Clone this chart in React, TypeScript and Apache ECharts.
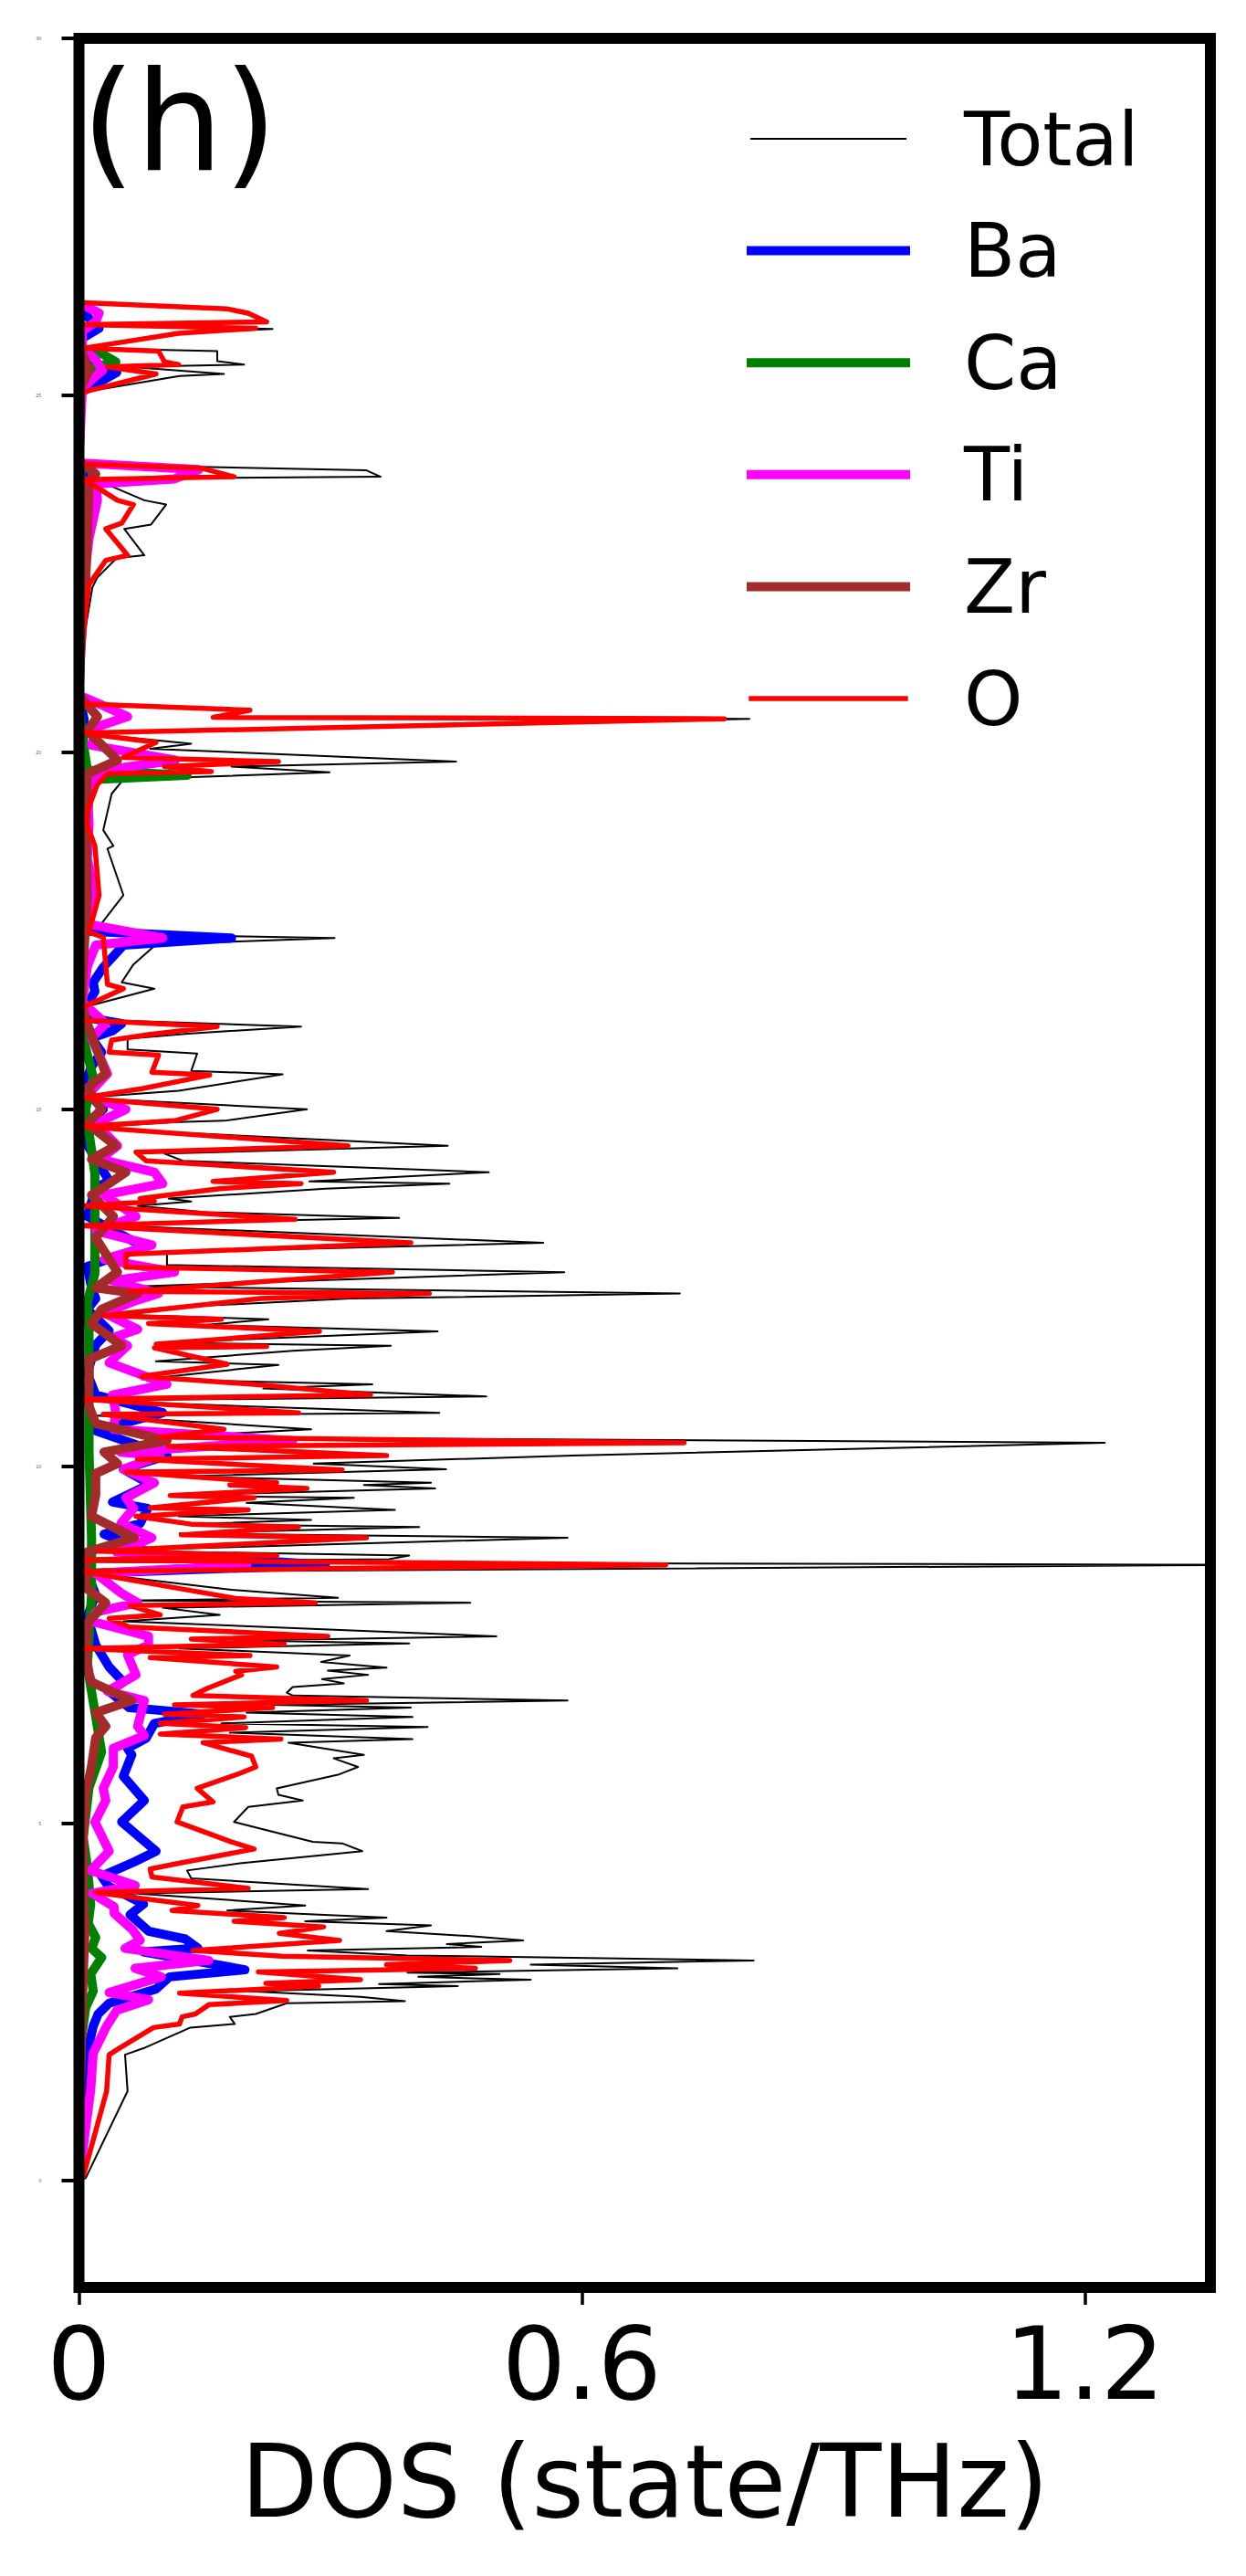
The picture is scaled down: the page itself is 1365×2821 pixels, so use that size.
import React, { useEffect, useRef } from "react";
import * as echarts from "echarts";

// [frequency (THz), DOS (state/THz)]
const totalPts: [number, number][] = [
  [26.3,0],[26.22,0.18],[26.15,0.203],[26.03,0.224],[25.99,0.005],[25.93,0.231],[25.87,0.12],[25.66,0.005],[25.62,0.165],[25.48,0.165],[25.43,0.197],[25.4,0.06],[25.3,0.173],[25.27,0.12],[25.04,0.003],[24.1,0],
  [24.03,0.005],[23.95,0.343],[23.86,0.36],[23.83,0.015],[23.77,0.03],[23.53,0.078],[23.47,0.104],[23.19,0.086],[23.13,0.054],[22.76,0.078],[22.72,0.045],[22.45,0.022],[22.31,0.016],[21.4,0.003],[20.8,0],
  [20.68,0.005],[20.6,0.204],[20.5,0.16],[20.47,0.8],[20.27,0.005],[20.12,0.134],[20.05,0.085],[19.87,0.45],[19.8,0.182],[19.72,0.299],[19.62,0.053],[19.42,0.039],[18.91,0.029],[18.69,0.041],[18.65,0.034],[18.0,0.053],[17.53,0.022],[17.46,0.01],[17.4,0.305],[17.31,0.092],[17.03,0.065],[16.78,0.051],[16.69,0.09],[16.42,0.003],
  [16.26,0.003],[16.16,0.265],[16.06,0.13],[15.99,0.058],[15.84,0.058],[15.78,0.141],[15.54,0.134],[15.49,0.243],[15.26,0.119],[15.16,0.003],[15.0,0.272],[14.84,0.173],[14.82,0.11],[14.74,0.003],[14.49,0.44],[14.38,0.102],[14.28,0.124],[14.12,0.489],[13.99,0.275],[13.96,0.442],[13.89,0.294],[13.75,0.107],[13.71,0.134],[13.65,0.07],[13.56,0.151],[13.48,0.382],[13.39,0.003],[13.13,0.554],[13.0,0.105],[12.82,0.105],[12.72,0.579],[12.52,0.07],[12.42,0.717],[12.35,0.323],
  [12.22,0.1],[12.13,0.036],[12.06,0.226],[11.98,0.15],[11.89,0.428],[11.73,0.095],[11.69,0.372],[11.62,0.255],[11.47,0.092],[11.42,0.238],[11.22,0.075],[11.15,0.35],[11.09,0.22],[10.98,0.486],[10.92,0.003],[10.75,0.43],[10.71,0.02],[10.52,0.277],[10.41,0.097],[10.33,1.224],[10.15,0.588],[10.04,0.28],[9.96,0.438],[9.86,0.12],[9.77,0.42],[9.74,0.34],[9.69,0.425],[9.59,0.107],[9.56,0.328],[9.49,0.2],[9.39,0.377],[9.3,0.119],[9.25,0.277],[9.19,0.13],[9.15,0.406],[9.06,0.12],[9.0,0.583],[8.82,0.03],[8.75,0.394],[8.7,0.37],[8.66,0.003],[8.62,1.4],[8.52,0.003],[8.27,0.182],[8.16,0.309],
  [8.12,0.06],[8.09,0.467],[8.02,0.1],[7.92,0.168],[7.83,0.053],[7.62,0.498],[7.56,0.2],[7.52,0.394],[7.45,0.12],[7.35,0.323],[7.26,0.289],[7.18,0.367],[7.14,0.297],[7.08,0.345],[7.02,0.29],[6.96,0.316],[6.91,0.255],[6.83,0.248],[6.79,0.255],[6.72,0.583],[6.66,0.23],[6.62,0.396],[6.55,0.2],[6.49,0.398],[6.4,0.17],[6.35,0.416],[6.27,0.18],[6.18,0.398],[6.13,0.25],[5.96,0.34],[5.91,0.304],[5.79,0.333],[5.68,0.309],[5.49,0.236],[5.4,0.238],[5.32,0.267],[5.23,0.202],[5.02,0.185],[4.74,0.279],[4.72,0.314],[4.61,0.338],[4.44,0.192],[4.34,0.129],[4.23,0.134],[4.08,0.345],
  [4.02,0.067],[3.85,0.27],[3.78,0.177],[3.68,0.367],[3.63,0.27],[3.57,0.42],[3.49,0.367],[3.42,0.467],[3.36,0.53],[3.31,0.439],[3.27,0.48],[3.22,0.273],[3.15,0.392],[3.08,0.805],[3.02,0.539],[2.97,0.714],[2.91,0.392],[2.89,0.502],[2.85,0.405],[2.81,0.539],[2.75,0.358],[2.72,0.452],[2.65,0.2],[2.57,0.336],[2.51,0.389],[2.48,0.248],[2.33,0.211],[2.29,0.18],[2.19,0.186],[2.14,0.133],[1.85,0.077],[1.76,0.055],[1.25,0.058],[0.03,0.008],[0,0],
];

const oPts: [number, number][] = [
  [26.3,0],[26.21,0.177],[26.15,0.202],[26.03,0.224],[25.99,0.005],[25.94,0.211],[25.87,0.119],[25.66,0.005],[25.62,0.095],[25.47,0.102],[25.43,0.119],[25.4,0.034],[25.3,0.092],[25.04,0.003],[24.1,0],
  [24.04,0.003],[23.98,0.146],[23.86,0.185],[23.82,0.005],[23.76,0.015],[23.53,0.046],[23.47,0.065],[23.21,0.051],[23.13,0.032],[22.76,0.058],[22.69,0.032],[22.35,0.012],[21.4,0.002],[20.8,0],
  [20.68,0.003],[20.59,0.204],[20.49,0.16],[20.47,0.77],[20.27,0.003],[20.14,0.092],[19.93,0.053],[19.87,0.238],[19.8,0.102],[19.73,0.158],[19.7,0.034],[19.55,0.022],[19.08,0.007],[18.69,0.019],[18.0,0.024],[17.48,0.012],[17.41,0.029],[16.75,0.034],[16.69,0.053],[16.42,0.003],
  [16.25,0.003],[16.16,0.165],[16.05,0.085],[15.97,0.039],[15.8,0.036],[15.76,0.095],[15.52,0.087],[15.48,0.156],[15.29,0.075],[15.16,0.003],[15.0,0.165],[14.84,0.114],[14.76,0.003],[14.49,0.321],[14.4,0.068],[14.28,0.08],[14.12,0.304],[13.99,0.16],[13.96,0.265],[13.89,0.168],[13.75,0.073],[13.71,0.09],[13.65,0.004],[13.46,0.258],[13.37,0.003],[13.13,0.396],[12.97,0.056],[12.79,0.056],[12.72,0.374],[12.45,0.061],[12.42,0.418],[12.35,0.216],
  [12.11,0.029],[12.06,0.17],[12.0,0.083],[11.89,0.287],[11.71,0.092],[11.68,0.224],[11.66,0.09],[11.43,0.177],[11.26,0.075],[11.14,0.219],[11.0,0.348],[10.94,0.003],[10.75,0.262],[10.73,0.029],[10.52,0.173],[10.41,0.097],[10.33,0.722],[10.28,0.107],[10.15,0.367],[10.1,0.07],[9.95,0.314],[9.92,0.056],[9.77,0.236],[9.74,0.18],[9.69,0.272],[9.59,0.109],[9.56,0.209],[9.42,0.085],[9.39,0.202],[9.3,0.068],[9.19,0.134],[9.15,0.262],[9.04,0.122],[9.0,0.343],[8.81,0.024],[8.75,0.236],[8.69,0.003],[8.62,0.7],[8.53,0.003],[8.26,0.134],[8.15,0.187],
  [8.09,0.282],[8.05,0.061],[7.92,0.097],[7.87,0.036],[7.75,0.06],[7.62,0.297],[7.58,0.134],[7.51,0.245],[7.45,0.003],[7.35,0.204],[7.32,0.085],[7.19,0.236],[7.13,0.187],[7.08,0.194],[6.89,0.153],[6.79,0.136],[6.72,0.343],[6.66,0.114],[6.62,0.231],[6.53,0.102],[6.49,0.197],[6.4,0.097],[6.34,0.199],[6.25,0.097],[6.18,0.241],[6.13,0.148],[5.94,0.206],[5.79,0.211],[5.7,0.192],[5.49,0.141],[5.3,0.16],[5.23,0.124],[5.02,0.117],[4.74,0.182],[4.64,0.209],[4.44,0.119],[4.36,0.085],[4.25,0.087],[4.09,0.202],
  [4.03,0.02],[3.85,0.142],[3.78,0.111],[3.68,0.245],[3.63,0.185],[3.55,0.292],[3.46,0.239],[3.36,0.311],[3.22,0.136],[3.14,0.242],[3.08,0.514],[3.02,0.367],[2.97,0.473],[2.92,0.214],[2.81,0.336],[2.76,0.223],[2.72,0.286],[2.62,0.12],[2.52,0.248],[2.46,0.155],[2.33,0.139],[2.29,0.123],[2.19,0.12],[2.14,0.089],[1.85,0.048],[1.76,0.036],[1.25,0.033],[0.05,0.005],[0,0],
];

const baPts: [number, number][] = [
  [26.3,0],[26.1,0.01],[25.94,0.024],[25.8,0.004],[25.66,0.004],[25.5,0.02],[25.43,0.012],[25.32,0.045],[25.22,0.03],[25.04,0.002],[24.1,0],[24.03,0.003],[23.9,0.006],[23.7,0.004],[23.0,0.003],[22.3,0.002],[21.4,0.001],[20.8,0],[20.47,0.006],[20.0,0.004],[19.87,0.008],[19.7,0.004],[19.0,0.003],[18.0,0.003],[17.5,0.005],[17.4,0.182],[17.3,0.053],[16.99,0.029],[16.78,0.017],[16.65,0.019],[16.47,0.01],[16.3,0.003],[16.2,0.051],[16.1,0.04],[16.0,0.015],[15.8,0.027],[15.6,0.015],[15.3,0.005],[15.0,0.029],[14.8,0.01],[14.5,0.01],[14.0,0.036],[13.9,0.02],[13.5,0.01],[13.07,0.078],[12.8,0.01],[12.5,0.015],[12.35,0.02],[12.2,0.01],[11.9,0.036],[11.7,0.02],[11.3,0.01],[11.0,0.02],[10.75,0.1],[10.5,0.02],[10.15,0.105],[9.96,0.053],[9.75,0.085],[9.5,0.04],[9.41,0.082],[9.2,0.073],[9.05,0.03],[8.77,0.09],[8.62,0.294],[8.5,0.01],[8.2,0.02],[7.9,0.01],[7.5,0.02],[7.19,0.036],[6.98,0.053],[6.85,0.036],[6.62,0.06],[6.53,0.148],[6.4,0.09],[6.19,0.08],[6.05,0.058],[5.96,0.063],[5.66,0.053],[5.32,0.078],[5.02,0.051],[4.61,0.092],[4.46,0.066],[4.26,0.027],[4.12,0.035],[3.87,0.077],[3.72,0.061],[3.49,0.083],[3.38,0.127],[3.25,0.142],[3.2,0.077],[2.95,0.198],[2.85,0.108],[2.68,0.092],[2.48,0.036],[2.33,0.023],[2.16,0.017],[1.85,0.011],[1.25,0.008],[0,0],
];

const caPts: [number, number][] = [
  [26.3,0],[25.66,0.002],[25.6,0.025],[25.47,0.044],[25.4,0.02],[25.3,0.003],[24.1,0],[24.0,0.002],[23.5,0.003],[22.5,0.003],[21.4,0.001],[20.8,0],[20.3,0.003],[19.75,0.01],[19.68,0.129],[19.62,0.02],[19.4,0.012],[18.5,0.006],[17.5,0.004],[16.5,0.002],[16.0,0.005],[15.45,0.017],[15.0,0.008],[14.1,0.019],[13.5,0.019],[12.7,0.019],[12.3,0.01],[11.9,0.012],[10.2,0.012],[9.0,0.015],[8.2,0.015],[7.2,0.01],[6.0,0.027],[5.5,0.012],[4.8,0.005],[4.4,0.01],[3.87,0.014],[3.6,0.011],[3.4,0.02],[3.25,0.015],[3.12,0.027],[2.89,0.014],[2.65,0.017],[2.42,0.008],[1.9,0.002],[0,0],
];

const tiPts: [number, number][] = [
  [26.3,0],[26.15,0.024],[26.03,0.02],[25.9,0.004],[25.66,0.004],[25.5,0.02],[25.35,0.028],[25.1,0.004],[24.1,0],[24.05,0.005],[23.96,0.143],[23.83,0.114],[23.76,0.02],[23.53,0.022],[23.0,0.012],[22.4,0.006],[21.4,0.002],[20.8,0],[20.65,0.03],[20.5,0.058],[20.35,0.02],[20.1,0.015],[19.89,0.115],[19.75,0.03],[19.5,0.01],[19.0,0.012],[18.5,0.01],[18.0,0.02],[17.6,0.008],[17.4,0.1],[17.3,0.02],[17.0,0.01],[16.5,0.004],[16.2,0.032],[16.0,0.015],[15.5,0.034],[15.2,0.01],[15.0,0.056],[14.8,0.02],[14.49,0.046],[14.3,0.025],[14.12,0.09],[13.96,0.1],[13.8,0.03],[13.5,0.068],[13.3,0.02],[13.1,0.087],[12.9,0.03],[12.72,0.114],[12.6,0.04],[12.42,0.095],[12.33,0.07],[12.15,0.03],[11.92,0.07],[11.8,0.04],[11.69,0.058],[11.45,0.036],[11.15,0.105],[11.0,0.04],[10.75,0.044],[10.52,0.041],[10.36,0.255],[10.2,0.05],[10.15,0.097],[9.96,0.053],[9.77,0.09],[9.56,0.056],[9.41,0.065],[9.2,0.05],[9.0,0.087],[8.8,0.045],[8.62,0.2],[8.5,0.02],[8.22,0.051],[8.09,0.07],[7.96,0.02],[7.83,0.015],[7.62,0.083],[7.5,0.083],[7.36,0.058],[7.08,0.068],[6.85,0.034],[6.72,0.078],[6.36,0.07],[6.23,0.078],[6.05,0.041],[5.79,0.041],[5.49,0.029],[5.32,0.032],[5.02,0.019],[4.61,0.036],[4.34,0.014],[4.13,0.067],[4.02,0.016],[3.83,0.042],[3.74,0.042],[3.51,0.064],[3.36,0.073],[3.25,0.055],[3.08,0.155],[2.97,0.067],[2.85,0.098],[2.63,0.036],[2.53,0.083],[2.38,0.045],[2.16,0.033],[1.78,0.017],[1.27,0.014],[0,0],
];

const zrPts: [number, number][] = [
  [26.3,0],[25.66,0.002],[25.35,0.012],[25.1,0.002],[24.1,0],[24.05,0.003],[23.9,0.02],[23.8,0.012],[23.0,0.01],[22.4,0.008],[21.4,0.002],[20.8,0],[20.5,0.022],[20.3,0.01],[19.89,0.046],[19.7,0.01],[19.0,0.008],[18.0,0.01],[17.0,0.005],[16.5,0.003],[16.2,0.01],[15.5,0.032],[15.3,0.01],[15.0,0.027],[14.8,0.01],[14.49,0.044],[14.3,0.015],[14.12,0.056],[13.96,0.036],[13.8,0.015],[13.5,0.041],[13.2,0.02],[12.72,0.046],[12.5,0.02],[12.42,0.07],[12.2,0.027],[12.0,0.015],[11.69,0.051],[11.5,0.012],[11.2,0.012],[10.9,0.01],[10.6,0.02],[10.36,0.105],[10.2,0.03],[10.04,0.046],[9.9,0.02],[9.6,0.02],[9.3,0.015],[9.0,0.066],[8.8,0.01],[8.3,0.008],[8.09,0.032],[7.8,0.01],[7.4,0.008],[7.1,0.012],[6.98,0.015],[6.72,0.063],[6.55,0.02],[6.36,0.032],[6.2,0.02],[5.8,0.015],[5.4,0.008],[4.8,0.005],[4.1,0.005],[3.5,0.007],[2.5,0.004],[1.5,0.002],[0,0],
];

const seriesNames = ["Total", "Ba", "Ca", "Ti", "Zr", "O"];
const seriesColors = ["#000000", "#0000ff", "#008000", "#ff00ff", "#a52a2a", "#ff0000"];
const seriesWidths = [2, 10, 10, 10, 10, 5.5];
const seriesPts = [totalPts, baPts, caPts, tiPts, zrPts, oPts];

const freqTicks = [0, 5, 10, 15, 20, 25, 30];
const dosTicks = [0, 0.6, 1.2];

const FONT = "DejaVu Sans";

export default function App() {
  const ref = useRef<HTMLDivElement>(null);
  useEffect(() => {
    if (!ref.current) return;
    const chart = echarts.init(ref.current, null, { renderer: "svg" });
    const gridLeft = 86.5;
    const gridTop = 42;
    const gridRight = 39;
    const gridBottom = 316;
    const W = 1365;
    const H = 2821;
    chart.setOption({
      animation: false,
      textStyle: { fontFamily: FONT },
      title: {
        text: "(h)",
        left: 89,
        top: 57,
        padding: 0,
        textStyle: { fontSize: 152, fontWeight: "normal", color: "#000", fontFamily: FONT },
      },
      legend: {
        orient: "vertical",
        left: 818,
        top: 107,
        padding: 0,
        itemWidth: 169,
        itemHeight: 12,
        itemGap: 32.6,
        selectedMode: false,
        data: seriesNames.map((n, i) => ({
          name: n,
          lineStyle: { width: seriesWidths[i], color: seriesColors[i], cap: "square" },
        })),
        itemStyle: { opacity: 0 },
        textStyle: { fontSize: 82, lineHeight: 90, color: "#000", fontFamily: FONT, padding: [0, 0, 0, 59] },
      },
      grid: { left: gridLeft, right: gridRight, top: gridTop, bottom: gridBottom, containLabel: false },
      xAxis: {
        type: "value",
        min: 0,
        max: 1.35,
        axisLine: { show: false, onZero: false },
        splitLine: { show: false },
        axisTick: { show: true, length: 19, customValues: dosTicks, lineStyle: { width: 3.5, color: "#000" } },
        axisLabel: {
          customValues: dosTicks,
          fontSize: 110,
          margin: 29,
          color: "#000",
          fontFamily: FONT,
          formatter: (v: number) => String(v),
        },
        name: "DOS (state/THz)",
        nameLocation: "middle",
        nameGap: 158,
        nameTextStyle: { fontSize: 110, color: "#000", fontFamily: FONT },
      },
      yAxis: {
        type: "value",
        min: -1.5,
        max: 30,
        axisLine: { show: false, onZero: false },
        splitLine: { show: false },
        axisTick: { show: true, length: 19, customValues: freqTicks, lineStyle: { width: 4, color: "#000" } },
        axisLabel: { customValues: freqTicks, fontSize: 5, margin: 41, color: "#555", fontFamily: FONT },
      },
      series: seriesNames.map((name, i) => ({
        name,
        type: "line",
        symbol: "none",
        showSymbol: false,
        clip: true,
        silent: true,
        z: 2 + i,
        color: seriesColors[i],
        lineStyle: { width: seriesWidths[i], color: seriesColors[i], join: "round", cap: "butt" },
        data: seriesPts[i].map((p) => [p[1], p[0]]),
      })),
      graphic: [
        {
          type: "rect",
          z: 100,
          silent: true,
          shape: { x: gridLeft, y: gridTop, width: W - gridLeft - gridRight, height: H - gridTop - gridBottom },
          style: { fill: "none", stroke: "#000", lineWidth: 12 },
        },
      ],
    });
    return () => chart.dispose();
  }, []);
  return (
    <div
      ref={ref}
      style={{ position: "absolute", left: 0, top: 0, width: 1365, height: 2821, background: "#fff" }}
    />
  );
}
